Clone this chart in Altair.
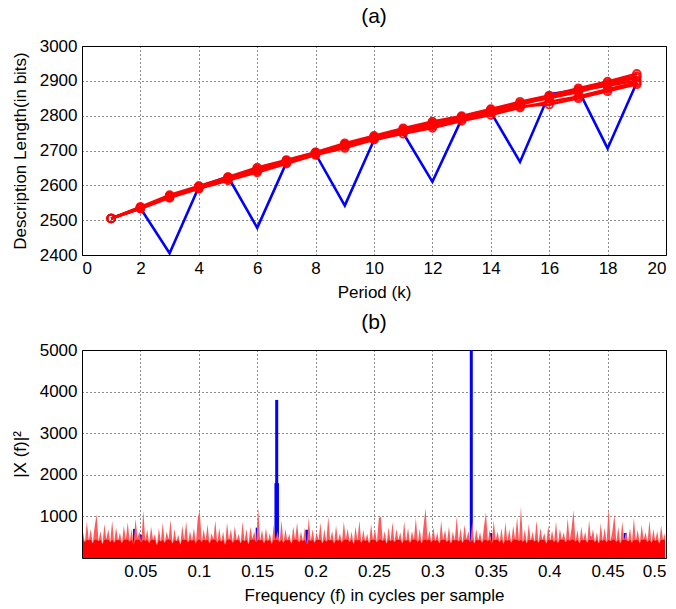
import altair as alt
import pandas as pd

# ---------------- data: panel (a) ----------------
periods = list(range(1, 20))
blue_dl = [2505, 2535, 2405, 2595, 2625, 2478, 2665, 2690, 2542, 2730, 2750,
           2610, 2790, 2810, 2667, 2862, 2874, 2706, 2895]
red_t1 = [2505, 2535, 2569, 2595, 2623, 2647, 2671, 2694, 2718, 2739, 2761,
          2780, 2797, 2817, 2835, 2856, 2875, 2894, 2913]
red_t2 = [2505, 2533, 2564, 2590, 2614, 2637, 2662, 2687, 2707, 2731, 2748,
          2765, 2785, 2802, 2823, 2840, 2855, 2876, 2895]
red_t3 = [2505, 2538, 2572, 2598, 2624, 2651, 2673, 2695, 2721, 2742, 2764,
          2783, 2799, 2819, 2840, 2858, 2879, 2898, 2920]
red_t4 = [2505, 2534, 2567, 2592, 2618, 2641, 2665, 2691, 2712, 2733, 2754,
          2770, 2789, 2809, 2827, 2832, 2850, 2870, 2890]
red_t5 = [2505, 2536, 2566, 2597, 2619, 2646, 2667, 2693, 2715, 2738, 2756,
          2777, 2793, 2813, 2831, 2855, 2872, 2886, 2900]
red_t6 = [2505, 2537, 2568, 2596, 2621, 2643, 2669, 2690, 2716, 2736, 2759,
          2774, 2795, 2811, 2834, 2850, 2868, 2890, 2908]

top_x_ticks = list(range(0, 21, 2))
top_y_ticks = list(range(2400, 3001, 100))

# ---------------- data: panel (b) ----------------
spec_red = [
    620, 380, 880, 420, 700, 350, 760, 1050, 400, 650, 330, 820, 450, 690, 380, 900, 360, 740, 420, 610,
    350, 780, 440, 860, 390, 700, 320, 950, 480, 640, 370, 1150, 410, 690, 350, 760, 430, 580, 300, 720,
    390, 850, 360, 640, 450, 920, 340, 700, 400, 560, 320, 780, 430, 880, 370, 650, 410, 720, 350, 980,
    1130, 380, 690, 420, 810, 340, 600, 450, 900, 360, 720, 390, 640, 310, 850, 440, 700, 360, 770, 420,
    580, 350, 880, 400, 700, 330, 750, 460, 640, 380, 1200, 420, 680, 350, 720, 400, 600, 330, 800, 430,
    650, 380, 900, 360, 700, 420, 580, 340, 760, 440, 860, 370, 640, 400, 730, 320, 980, 410, 690, 360,
    620, 430, 850, 350, 700, 390, 1000, 420, 650, 340, 780, 410, 600, 360, 880, 450, 710, 380, 640, 330,
    760, 420, 900, 360, 680, 400, 590, 350, 820, 430, 700, 370, 960, 1000, 410, 650, 340, 740, 400, 860,
    380, 700, 430, 620, 350, 880, 410, 720, 360, 650, 440, 960, 380, 700, 340, 800, 1200, 420, 660, 370,
    740, 400, 620, 350, 900, 430, 680, 380, 760, 340, 640, 420, 1000, 390, 720, 360, 800, 450, 650, 380,
    880, 340, 700, 420, 620, 360, 760, 1100, 400, 680, 350, 900, 430, 640, 380, 720, 330, 860, 410, 690,
    360, 780, 440, 980, 400, 1250, 380, 700, 350, 820, 420, 640, 390, 900, 360, 720, 430, 600, 340, 780,
    420, 660, 380, 880, 350, 700, 440, 620, 370, 960, 410, 720, 1150, 390, 680, 340, 760, 420, 640, 360,
    900, 430, 700, 380, 620, 350, 840, 410, 720, 370, 1200, 400, 660, 1050, 380, 760, 350, 880, 430, 640,
    390, 720, 360, 960, 420, 680, 350, 800, 440, 620, 380, 900, 360, 700, 410, 650, 340, 780, 430, 600,
]
n_bins = len(spec_red)
freq_red = [(i + 0.5) * 0.5 / n_bins for i in range(n_bins)]

blue_f = [0.045, 0.05, 0.15, 0.1667, 0.1925, 0.3333, 0.35, 0.435, 0.465]
blue_p = [700, 560, 730, 3800, 680, 5300, 600, 520, 600]
shoulder_f = [0.1667]
shoulder_p = [1800]

bot_x_ticks = [0.05, 0.1, 0.15, 0.2, 0.25, 0.3, 0.35, 0.4, 0.45, 0.5]
bot_y_ticks = [1000, 2000, 3000, 4000, 5000]

RED = "#ff0000"
PINK = "#ff5a5a"
BLUE = "#0000ff"
FONT = "Liberation Sans"
FS = 17
TFS = 21

# ---------------- panel (a) ----------------
blue_df = pd.DataFrame({"k": periods, "dl": blue_dl})
rows = []
for name, vals in [("t1", red_t1), ("t2", red_t2), ("t3", red_t3),
                   ("t4", red_t4), ("t5", red_t5), ("t6", red_t6)]:
    for k, v in zip(periods, vals):
        rows.append({"k": k, "dl": v, "trial": name})
red_df = pd.DataFrame(rows)

xa = alt.X("k:Q", scale=alt.Scale(domain=[0, 20], nice=False),
           axis=alt.Axis(values=top_x_ticks, format="d", title="Period (k)"))
ya = alt.Y("dl:Q", scale=alt.Scale(domain=[2400, 3000], nice=False, zero=False),
           axis=alt.Axis(values=top_y_ticks, format="d",
                         title="Description Length(in bits)"))

blue_line = alt.Chart(blue_df).mark_line(color=BLUE, strokeWidth=2.6).encode(x=xa, y=ya)
red_lines = alt.Chart(red_df).mark_line(color=RED, strokeWidth=2.6).encode(
    x=xa, y=ya, detail="trial:N")
red_pts = alt.Chart(red_df).mark_point(color=RED, filled=False, size=60,
                                       strokeWidth=1.8, opacity=0.9).encode(
    x=xa, y=ya, detail="trial:N")

top = alt.layer(blue_line, red_lines, red_pts).properties(
    width=584, height=209,
    title=alt.TitleParams("(a)", fontSize=TFS, font=FONT, fontWeight="normal", offset=10))

# ---------------- panel (b) ----------------
red_spec_df = pd.DataFrame({"f": freq_red, "p": spec_red})
blue_spec_df = pd.DataFrame({"f": blue_f, "p": blue_p})
shoulder_df = pd.DataFrame({"f": shoulder_f, "p": shoulder_p})

xb = alt.X("f:Q", scale=alt.Scale(domain=[0, 0.5], nice=False),
           axis=alt.Axis(values=bot_x_ticks, labelExpr="format(datum.value, '~g')",
                         title="Frequency (f) in cycles per sample"))
yb = alt.Y("p:Q", scale=alt.Scale(domain=[0, 5000], nice=False),
           axis=alt.Axis(values=bot_y_ticks, format="d", title="|X (f)|²"))

blue_spikes = alt.Chart(blue_spec_df).mark_rule(color=BLUE, strokeWidth=3, clip=True).encode(
    x=xb, y=yb, y2=alt.datum(0))
blue_sh = alt.Chart(shoulder_df).mark_rule(color=BLUE, strokeWidth=4.5, clip=True).encode(
    x=xb, y=yb, y2=alt.datum(0))
red_area = alt.Chart(red_spec_df).mark_area(color=PINK, opacity=1, interpolate="linear").encode(
    x=xb, y=yb)
red_core = alt.Chart(red_spec_df).transform_calculate(
    pc="min(datum.p, 440)"
).mark_area(color=RED, opacity=1, interpolate="linear").encode(
    x=xb, y=alt.Y("pc:Q", scale=alt.Scale(domain=[0, 5000], nice=False)))

bottom = alt.layer(blue_spikes, blue_sh, red_area, red_core).properties(
    width=584, height=208,
    title=alt.TitleParams("(b)", fontSize=TFS, font=FONT, fontWeight="normal", offset=8))

chart = alt.vconcat(top, bottom, spacing=10).properties(
    padding={"left": 10, "top": 5, "right": 0, "bottom": 0}
).configure_view(
    stroke="#000000", strokeWidth=1
).configure_title(
    fontSize=TFS, font=FONT, fontWeight="normal", color="#000000"
).configure_axis(
    grid=True, gridColor="#000000", gridDash=[1, 3], gridOpacity=0.9, gridWidth=1,
    domain=False, ticks=False,
    labelFont=FONT, labelFontSize=FS, labelColor="#000000", labelPadding=5,
    titleFont=FONT, titleFontSize=FS, titleColor="#000000", titleFontWeight="normal",
    titlePadding=8,
).configure_axisY(labelPadding=5, titlePadding=10)

chart.save("out.html", embed_options={"renderer": "svg", "actions": False})
